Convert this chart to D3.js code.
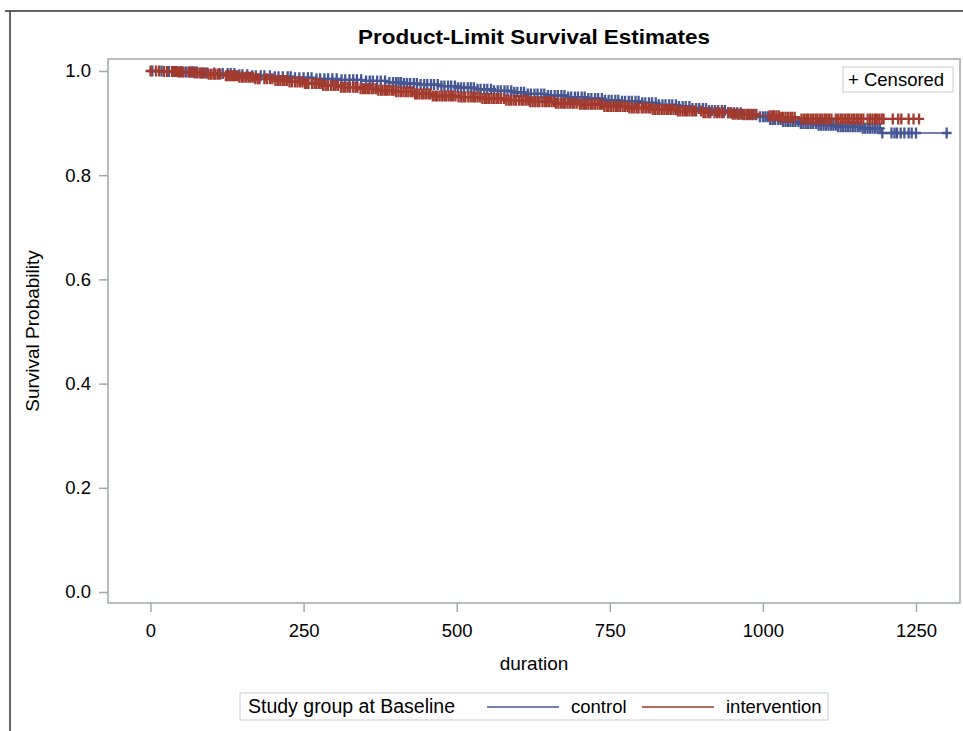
<!DOCTYPE html>
<html>
<head>
<meta charset="utf-8">
<script src="https://cdn.jsdelivr.net/npm/d3@7"></script>
<style>
  body { margin: 0; background: #fff; }
  #chart { width: 963px; height: 731px; }
  text { font-family: "Liberation Sans", Arial, sans-serif; fill: #000; }
</style>
</head>
<body>
<div id="chart"></div>
<script>
// Kaplan-Meier estimates: event time, survival after that event
const controlTimes = [0, 28, 55, 80, 110, 140, 165, 200, 235, 270, 310, 350, 385, 410, 440, 470, 500, 530, 560, 590,
  615, 645, 680, 710, 740, 770, 800, 830, 860, 885, 910, 940, 965, 990, 1010, 1030, 1060, 1090, 1120, 1160, 1195];
const controlSurv = [1.0, 0.999, 0.998, 0.996, 0.995, 0.993, 0.991, 0.989, 0.987, 0.985, 0.983, 0.981, 0.978, 0.976, 0.974, 0.971, 0.968, 0.965, 0.962, 0.959,
  0.956, 0.953, 0.950, 0.947, 0.944, 0.942, 0.939, 0.935, 0.932, 0.928, 0.924, 0.920, 0.916, 0.912, 0.907, 0.903, 0.899, 0.896, 0.893, 0.890, 0.881];

const interventionTimes = [0, 20, 45, 70, 95, 120, 145, 170, 200, 225, 250, 280, 310, 340, 370, 400, 430, 460, 500, 540,
  580, 620, 660, 700, 740, 780, 820, 860, 900, 950, 990, 1030, 1060];
const interventionSurv = [1.0, 0.999, 0.998, 0.996, 0.994, 0.991, 0.988, 0.985, 0.982, 0.979, 0.976, 0.972, 0.969, 0.966, 0.963, 0.960, 0.956, 0.952, 0.950, 0.947,
  0.944, 0.941, 0.938, 0.936, 0.932, 0.929, 0.926, 0.923, 0.920, 0.917, 0.914, 0.911, 0.908];

// censored observation times
const controlCensored = [3, 18, 30, 41, 50, 58, 64, 67, 70, 73, 76, 84, 93,
  104, 112, 118, 126, 131, 137, 145, 150, 158, 166, 172, 180, 186, 195,
  203, 209, 216, 224, 229, 236, 243, 250, 257, 263, 271, 277, 284, 290, 297,
  304, 312, 318, 325, 331, 337, 344, 352, 358, 363, 370, 376, 383, 390, 396,
  401, 405, 409, 414, 419, 424, 430, 435, 441, 447, 452, 458, 463, 469, 475, 480, 486, 491, 497,
  502, 507, 512, 518, 523, 528, 534, 539, 545, 550, 556, 561, 567, 572, 578, 583, 589, 594, 599,
  605, 610, 616, 621, 627, 632, 638, 643, 649, 654, 660, 665, 671, 676, 682, 687, 693, 698,
  704, 709, 715, 720, 726, 731, 737, 742, 748, 753, 759, 764, 770, 775, 781, 786, 792, 797,
  803, 808, 814, 819, 825, 830, 836, 841, 847, 852, 858, 863, 869, 874, 880, 885, 891, 896,
  902, 907, 912, 917, 922, 927, 933, 938, 943, 948, 953, 958, 964, 969, 974, 979, 984, 989, 995,
  1000, 1004, 1008, 1012, 1016, 1020, 1025, 1029, 1033, 1037, 1041, 1045, 1049, 1053, 1058, 1062, 1066, 1070, 1074, 1078, 1082, 1087, 1091, 1095, 1099,
  1103, 1107, 1111, 1115, 1119, 1123, 1127, 1131, 1135, 1139, 1143, 1147, 1151, 1155, 1159, 1163, 1167, 1171, 1175, 1179, 1183, 1187, 1191, 1195,
  1210, 1215, 1219, 1225, 1231, 1238, 1243, 1250, 1300];

const interventionCensored = [0, 9, 14, 22, 27,
  35, 37, 40, 43, 46, 48, 51, 54,
  62, 65, 69, 72, 76, 80, 83, 87, 90, 95, 99, 103, 106, 110, 114,
  123, 126, 129, 132, 135, 138, 141, 145, 149, 152, 156, 160, 163, 167, 171, 175, 178,
  186, 190, 195, 199, 204, 208, 212, 216, 219, 223, 227, 231, 236, 240, 244, 248, 252, 255, 258,
  264, 268, 271, 275, 279, 282, 286, 290, 295, 299, 302, 306, 311, 315, 318, 322, 326, 331, 335, 338,
  343, 347, 350, 354, 357, 361, 364, 368, 372, 376, 379, 383, 386, 390, 394, 397, 401, 405, 409, 413, 417,
  421, 425, 428, 432, 435, 439, 443, 446, 450, 454, 457, 461, 465, 468, 472, 476, 480, 483, 487, 491, 494, 498,
  503, 507, 511, 514, 519, 523, 527, 530, 534, 538, 542, 546, 549, 553, 557, 561, 565, 568, 572, 577, 581, 585, 589, 593, 597,
  602, 606, 609, 613, 617, 620, 624, 628, 632, 635, 640, 644, 647, 651, 655, 659, 662, 666, 670, 674, 677, 681, 685, 689, 692, 696,
  701, 704, 708, 711, 715, 719, 722, 726, 730, 734, 737, 741, 745, 748, 752, 756, 760, 763, 767, 771, 775, 779, 782, 786, 790, 794, 797,
  802, 805, 809, 813, 816, 820, 824, 828, 831, 835, 839, 843, 846, 850, 854, 858, 861, 865, 869, 873, 876, 880, 884, 888, 891,
  899, 903, 906, 910, 914, 921, 925, 929, 933, 936, 944, 948, 951, 955, 959, 962, 966, 970, 974, 977, 981, 985, 989,
  1011, 1015, 1018, 1022, 1026, 1030, 1033, 1037, 1041, 1045, 1048, 1052, 1063, 1067, 1071, 1074, 1078, 1082, 1086, 1089, 1093, 1097,
  1101, 1104, 1108, 1112, 1119, 1123, 1127, 1130, 1134, 1138, 1141, 1145, 1149, 1153, 1156, 1160, 1164, 1171, 1175, 1179, 1183, 1186, 1190, 1194, 1197,
  1212, 1221, 1226, 1238, 1246, 1255];

const groupNames = ['control', 'intervention'];
const groupColors = ['#445694', '#a23a2e'];
const xTicks = [0, 250, 500, 750, 1000, 1250];
const yTicks = [0.0, 0.2, 0.4, 0.6, 0.8, 1.0];

class SurvivalChart{
  constructor(opts){
    this.element = opts.element;
    this.groups = opts.groups;
  }

  draw(){
    this.width = 963;
    this.height = 731;
    this.wall = { left: 108, top: 59, right: 960, bottom: 603 };

    this.element.innerHTML = '';
    this.svg = d3.select(this.element).append('svg')
                 .attr('width', this.width)
                 .attr('height', this.height);

    this.createScales();
    this.addFrame();
    this.addAxes();
    this.addCurves();
    this.addLegends();
  }

  createScales(){
    this.xScale = d3.scaleLinear().domain([0, 1250]).range([150.5, 916]);
    this.yScale = d3.scaleLinear().domain([0, 1]).range([592, 71]);
  }

  addFrame(){
    const w = this.wall;
    // outer image border (top and left only)
    this.svg.append('path')
            .attr('d', 'M5,11H963M10,11V731')
            .attr('fill', 'none')
            .attr('stroke', '#333')
            .attr('stroke-width', 1.5);

    this.svg.append('rect')
            .attr('x', w.left)
            .attr('y', w.top)
            .attr('width', w.right - w.left)
            .attr('height', w.bottom - w.top)
            .attr('fill', '#fff')
            .attr('stroke', '#a3a7ab')
            .attr('stroke-width', 1.5);

    this.svg.append('text')
            .attr('x', 534)
            .attr('y', 44)
            .attr('text-anchor', 'middle')
            .attr('textLength', 352)
            .attr('lengthAdjust', 'spacingAndGlyphs')
            .style('font-size', '21px')
            .style('font-weight', 'bold')
            .text('Product-Limit Survival Estimates');
  }

  addAxes(){
    const w = this.wall;
    const xAxis = d3.axisBottom(this.xScale)
                    .tickValues(xTicks)
                    .tickSize(9)
                    .tickPadding(12)
                    .tickFormat(d3.format('d'));
    const yAxis = d3.axisLeft(this.yScale)
                    .tickValues(yTicks)
                    .tickSize(9)
                    .tickPadding(8)
                    .tickFormat(d3.format('.1f'));

    const gx = this.svg.append('g')
                       .attr('class', 'x axis')
                       .attr('transform', `translate(0,${w.bottom})`)
                       .call(xAxis);
    const gy = this.svg.append('g')
                       .attr('class', 'y axis')
                       .attr('transform', `translate(${w.left},0)`)
                       .call(yAxis);

    [gx, gy].forEach(g => {
      g.select('.domain').remove();
      g.selectAll('line').attr('stroke', '#a3a7ab').attr('stroke-width', 1.5);
      g.selectAll('text')
       .attr('fill', '#000')
       .style('font-family', '"Liberation Sans", Arial, sans-serif')
       .style('font-size', '18.5px');
    });

    this.svg.append('text')
            .attr('x', 534)
            .attr('y', 670)
            .attr('text-anchor', 'middle')
            .style('font-size', '19px')
            .text('duration');

    this.svg.append('text')
            .attr('transform', 'translate(39,331) rotate(-90)')
            .attr('text-anchor', 'middle')
            .style('font-size', '19px')
            .text('Survival Probability');
  }

  survivalAt(group, t){
    const i = d3.bisectRight(group.times, t) - 1;
    return group.surv[Math.max(0, i)];
  }

  addCurves(){
    const line = d3.line()
                   .x(d => this.xScale(d[0]))
                   .y(d => this.yScale(d[1]))
                   .curve(d3.curveStepAfter);

    const layer = this.svg.append('g');

    this.groups.forEach(group => {
      const last = d3.max(group.censored);
      const pts = group.times.map((t, i) => [t, group.surv[i]]);
      pts.push([last, group.surv[group.surv.length - 1]]);

      const g = layer.append('g').attr('class', 'group-' + group.name);

      g.append('path')
       .attr('d', line(pts))
       .attr('fill', 'none')
       .attr('stroke', group.color)
       .attr('stroke-width', 1.6);

      // censor marks: heavier vertical arm so dense runs merge into bands
      g.selectAll('path.cens')
       .data(group.censored)
       .join('path')
       .attr('class', 'cens')
       .attr('transform', d => `translate(${this.xScale(d)},${this.yScale(this.survivalAt(group, d))})`)
       .attr('d', 'M-5,0H5M0,-5.5V5.5')
       .attr('fill', 'none')
       .attr('stroke', group.color)
       .attr('stroke-width', 2.3);
    });
  }

  addLegends(){
    // censored marker legend
    const c = this.svg.append('g');
    c.append('rect')
     .attr('x', 843).attr('y', 67)
     .attr('width', 110).attr('height', 25)
     .attr('fill', '#fff')
     .attr('stroke', '#c8cacc');
    c.append('text')
     .attr('x', 848).attr('y', 86)
     .style('font-size', '18.5px')
     .text('+ Censored');

    // group legend
    const l = this.svg.append('g');
    l.append('rect')
     .attr('x', 240).attr('y', 693)
     .attr('width', 588).attr('height', 27)
     .attr('fill', '#fff')
     .attr('stroke', '#c8cacc');
    l.append('text')
     .attr('x', 248).attr('y', 713)
     .style('font-size', '19.5px')
     .text('Study group at Baseline');

    const items = [{x: 487, label: 'control'}, {x: 642, label: 'intervention'}];
    items.forEach((it, i) => {
      l.append('line')
       .attr('x1', it.x).attr('x2', it.x + 72)
       .attr('y1', 707).attr('y2', 707)
       .attr('stroke', groupColors[i])
       .attr('stroke-width', 1.5);
      l.append('text')
       .attr('x', it.x + 84).attr('y', 713)
       .style('font-size', '18.5px')
       .text(groupNames[i]);
    });
  }
}

const chart = new SurvivalChart({
  element: document.getElementById('chart'),
  groups: [
    { name: groupNames[0], color: groupColors[0], times: controlTimes, surv: controlSurv, censored: controlCensored },
    { name: groupNames[1], color: groupColors[1], times: interventionTimes, surv: interventionSurv, censored: interventionCensored }
  ]
});
chart.draw();
</script>
</body>
</html>
